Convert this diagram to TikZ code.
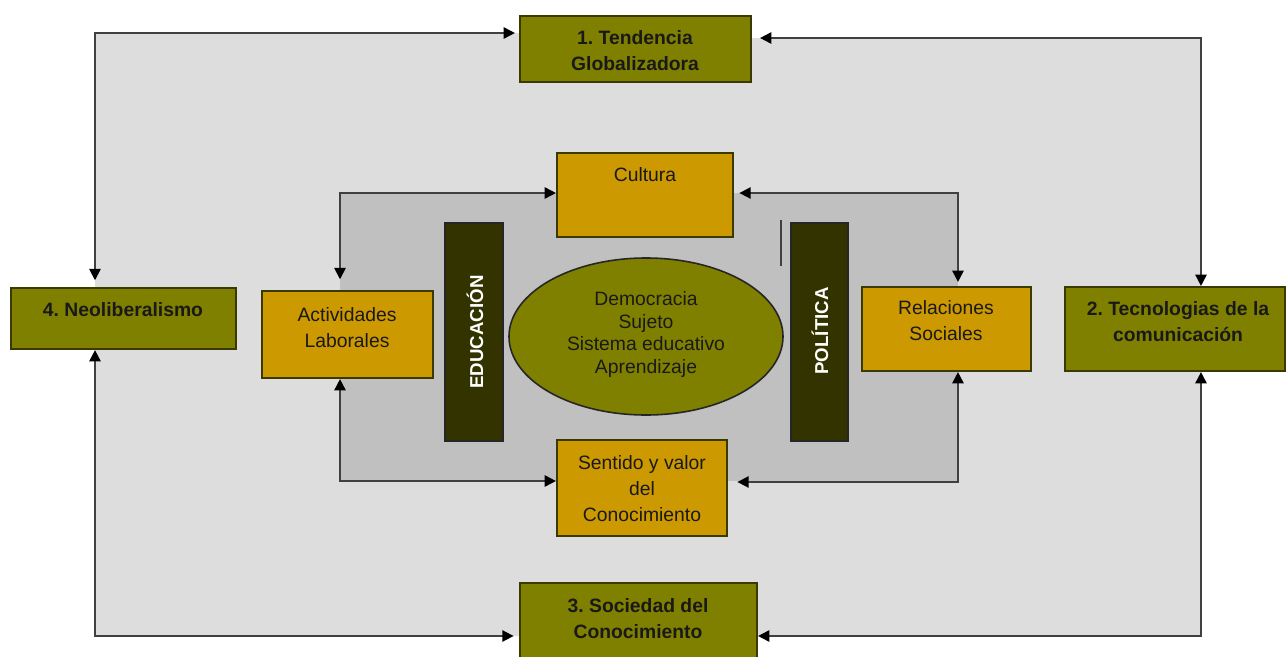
\documentclass[tikz,border=0pt]{standalone}
\usepackage{fontspec}
\setmainfont{Liberation Sans}
\usetikzlibrary{arrows.meta,shapes.geometric,backgrounds}
\definecolor{olivebox}{HTML}{808000}
\definecolor{goldbox}{HTML}{CC9900}
\definecolor{darkbar}{HTML}{333300}
\definecolor{bordercol}{HTML}{3A3A00}
\definecolor{lightbg}{HTML}{DDDDDD}
\definecolor{midbg}{HTML}{C0C0C0}
\definecolor{linecol}{HTML}{404040}
\frenchspacing
\begin{document}
\begin{tikzpicture}[x=0.75pt,y=-0.75pt,
  obox/.style={draw=bordercol,fill=olivebox,line width=1.6pt,inner sep=0pt},
  gbox/.style={draw=bordercol,fill=goldbox,line width=1.6pt,inner sep=0pt},
  barbox/.style={draw=black!85,fill=darkbar,line width=1.2pt,inner sep=0pt},
  ellbox/.style={ellipse,draw=black!85,fill=olivebox,line width=1.2pt,inner sep=0pt},
  oltext/.style={align=center,inner sep=0pt,font=\fontsize{14.5}{19.5}\selectfont\bfseries,text=black!90},
  gdtext/.style={align=center,inner sep=0pt,font=\fontsize{14.5}{19.5}\selectfont,text=black!90},
  eltext/.style={align=center,inner sep=0pt,font=\fontsize{14.5}{16.9}\selectfont,text=black!90},
  bartext/.style={inner sep=0pt,font=\fontsize{14}{17}\selectfont\bfseries,text=white},
  conn/.style={draw=linecol,line width=1.3pt,
    arrows={Triangle[length=8.5pt,width=8.5pt,color=black]-Triangle[length=8.5pt,width=8.5pt,color=black]}},
]
\useasboundingbox (0,0) rectangle (1286,657);

% outer boxes
\node[obox,minimum width=231*0.75pt,minimum height=66*0.75pt] (b1) at (635.5,49) {};
\node[obox,minimum width=220*0.75pt,minimum height=84*0.75pt] (b2) at (1175,329) {};
\node[obox,minimum width=237*0.75pt,minimum height=87*0.75pt] (b3) at (638.5,626.5) {};
\node[obox,minimum width=225*0.75pt,minimum height=61*0.75pt] (b4) at (123.5,318.5) {};

% inner boxes
\node[gbox,minimum width=176*0.75pt,minimum height=84*0.75pt] (cul) at (645,195) {};
\node[gbox,minimum width=171*0.75pt,minimum height=87*0.75pt] (act) at (347.5,334.5) {};
\node[gbox,minimum width=169*0.75pt,minimum height=84*0.75pt] (rel) at (946.5,329) {};
\node[gbox,minimum width=170*0.75pt,minimum height=96*0.75pt] (sen) at (642,488) {};

% bars and ellipse
\node[barbox,minimum width=58*0.75pt,minimum height=218*0.75pt] (edu) at (474,332) {};
\node[barbox,minimum width=57*0.75pt,minimum height=218*0.75pt] (pol) at (819.5,332) {};
\node[ellbox,minimum width=274*0.75pt,minimum height=157*0.75pt] (ell) at (646,336.5) {};

% texts
\node[oltext] (b1t) at (635,51) {1. Tendencia\\Globalizadora};
\node[oltext] (b2t) at (1178,321.5) {2. Tecnologias de la\\comunicación};
\node[oltext] (b3t) at (638,619) {3. Sociedad del\\Conocimiento};
\node[oltext] (b4t) at (123,310) {4. Neoliberalismo};
\node[gdtext] (cult) at (645,175) {Cultura};
\node[gdtext] (actt) at (347,328) {Actividades\\Laborales};
\node[gdtext] (relt) at (946,321) {Relaciones\\Sociales};
\node[gdtext] (sent) at (642,489) {Sentido y valor\\del\\Conocimiento};
\node[eltext] (ellt) at (646,334.5) {Democracia\\Sujeto\\Sistema educativo\\Aprendizaje};
\node[bartext,rotate=90] (edut) at (475,332) {EDUCACIÓN};
\node[bartext,rotate=90] (polt) at (820,331) {POLÍTICA};

% corner coordinates
\coordinate (otl) at (95,33);
\coordinate (otr) at (1201,38);
\coordinate (obl) at (95,636);
\coordinate (obr) at (1201,636);
\coordinate (itl) at (340,193);
\coordinate (itr) at (958,193);
\coordinate (ibl) at (340,481);
\coordinate (ibr) at (958,482);

% backgrounds
\begin{scope}[on background layer]
  \fill[lightbg] (95,33) -- (635,33) -- (635,38) -- (1201,38) -- (1201,636) -- (95,636) -- cycle;
  \fill[midbg] (340,193) rectangle (958,481);
\end{scope}

% outer connectors
\draw[conn,shorten <=5pt,shorten >=3pt] (b4.north -| otl) -- (otl) -- (otl -| b1.west);
\draw[conn,shorten <=6pt] (b1.east |- otr) -- (otr) -- (otr |- b2.north);
\draw[conn,shorten >=4pt] (b4.south -| obl) -- (obl) -- (obl -| b3.west);
\draw[conn] (b2.south -| obr) -- (obr) -- (obr -| b3.east);

% inner connectors
\draw[conn,shorten <=8pt] (act.north -| itl) -- (itl) -- (itl -| cul.west);
\draw[conn,shorten <=4pt,shorten >=3pt] (cul.east |- itr) -- (itr) -- (itr |- rel.north);
\draw[conn] (act.south -| ibl) -- (ibl) -- (ibl -| sen.west);
\draw[conn,shorten >=7pt] (rel.south -| ibr) -- (ibr) -- (ibr -| sen.east);

% stray short line
\draw[linecol,line width=1.3pt] (781,220) -- (781,266);
\end{tikzpicture}
\end{document}
